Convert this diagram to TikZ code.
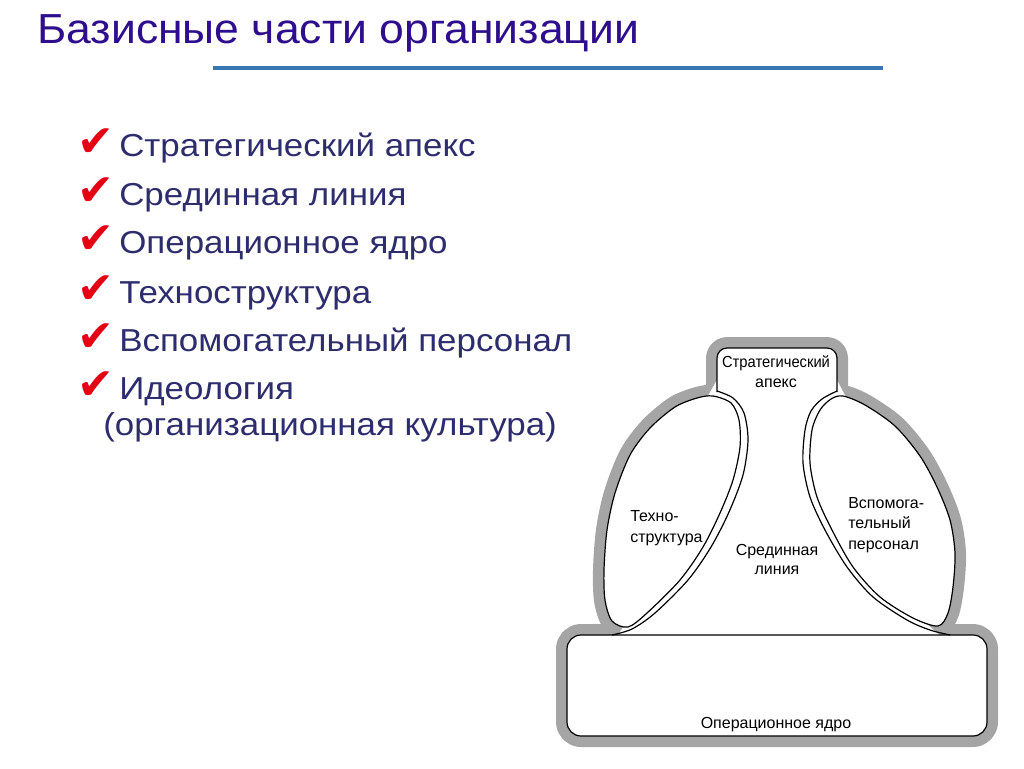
\documentclass[tikz,border=0pt]{standalone}
\usepackage{fontspec}
\setmainfont{Liberation Sans}
\newfontfamily\symfont{DejaVu Sans}
\newfontfamily\listfont[FakeStretch=1.1]{Liberation Sans}
\newfontfamily\titlefont[FakeStretch=1.06]{Liberation Sans}
\newfontfamily\apexfont[FakeStretch=0.92]{Liberation Sans}
\definecolor{titlecol}{RGB}{46,14,140}
\definecolor{textcol}{RGB}{45,45,110}
\definecolor{checkcol}{RGB}{230,0,20}
\definecolor{rulecol}{RGB}{56,118,180}
\definecolor{bandgray}{RGB}{165,165,165}
\tikzset{
  band/.style={draw=bandgray, line width=16.5pt, line join=round},
  edgeline/.style={draw=black, line width=0.9pt, line join=round},
  item/.style={anchor=base west, inner sep=0pt, text=textcol, font=\listfont\fontsize{23.8pt}{28pt}\selectfont},
  tick/.style={anchor=base west, inner sep=0pt, text=checkcol, font=\symfont\fontsize{33pt}{34pt}\selectfont},
  lab/.style={anchor=base, inner sep=0pt, font=\fontsize{12pt}{14pt}\selectfont},
  labw/.style={anchor=base west, inner sep=0pt, font=\fontsize{12pt}{14pt}\selectfont},
}
\newcommand\lobeinL{plot[smooth cycle] coordinates {(713,396) (731,403) (739,420) (740,447) (733,480) (720,513) (703,547) (680,580) (647,613) (628,627) (612,621) (605,600) (604,570) (607,530) (615,493) (630,455) (650,428) (675,407) (697,398)}}
\newcommand\lobeoutL{plot[smooth] coordinates {(717,391) (733,398) (744,413) (748,440) (743,475) (729,512) (711,547) (688,580) (655,613) (632,629) (612,635)}}
\newcommand\lobeinR{plot[smooth cycle] coordinates {(843,396) (865,405) (895,426) (920,456) (937,487) (950,520) (955,553) (953,587) (948,613) (938,626) (913,618) (880,597) (853,567) (832,530) (817,497) (810,463) (812,430) (820,410) (831,399)}}
\newcommand\lobeoutR{plot[smooth] coordinates {(837,391) (822,399) (811,411) (805,430) (803,463) (810,497) (825,530) (847,567) (873,597) (907,620) (930,630) (950,635)}}
\begin{document}
\begin{tikzpicture}[x=0.75pt,y=-0.75pt]
\useasboundingbox (0,0) rectangle (1024,768);
% title and rule
\node[anchor=base west, inner sep=0pt, text=titlecol, font=\titlefont\fontsize{31.5pt}{36pt}\selectfont] (title) at (37,43) {Базисные части организации};
\draw[rulecol, line width=3.4pt] (213,68) -- (883,68);
% bullet list
\node[tick] (t1) at (77,156) {✔};
\node[item] (i1) at (119,156) {Стратегический апекс};
\node[tick] (t2) at (77,205) {✔};
\node[item] (i2) at (119,205) {Срединная линия};
\node[tick] (t3) at (77,253) {✔};
\node[item] (i3) at (119,253) {Операционное ядро};
\node[tick] (t4) at (77,303) {✔};
\node[item] (i4) at (119,303) {Техноструктура};
\node[tick] (t5) at (77,351) {✔};
\node[item] (i5) at (119,351) {Вспомогательный персонал};
\node[tick] (t6) at (77,399) {✔};
\node[item] (i6) at (119,399) {Идеология};
\node[item] (i7) at (103,435) {(организационная культура)};
% diagram: gray band
\draw[band] \lobeinL;
\draw[band] \lobeinR;
\draw[band, rounded corners=7.5pt] (717,400) -- (717,348) -- (837,348) -- (837,400);
\draw[band, rounded corners=10.5pt] (567,635) rectangle (987,736);
% white interiors
\fill[white] \lobeinL;
\fill[white] \lobeinR;
\fill[white, rounded corners=7.5pt] (717,400) -- (717,348) -- (837,348) -- (837,400) -- cycle;
\fill[white, rounded corners=10.5pt] (567,635) rectangle (987,736);
\fill[white] (717,380) -- (837,380) -- (850,405) -- (840,500) -- (900,600) -- (945,640) -- (615,640) -- (640,600) -- (690,500) -- (700,410) -- cycle;
% black lines
\draw[edgeline] \lobeinL;
\draw[edgeline] \lobeoutL;
\draw[edgeline] \lobeinR;
\draw[edgeline] \lobeoutR;
\draw[edgeline, rounded corners=7.5pt] (717,392) -- (717,348) -- (837,348) -- (837,392);
\draw[edgeline, rounded corners=10.5pt] (567,635) rectangle (987,736);
% diagram labels
\node[lab, font=\apexfont\fontsize{12pt}{14pt}\selectfont] (apex1) at (776,367) {Стратегический};
\node[lab] (apex2) at (776,387) {апекс};
\node[labw] (tech1) at (630,521) {Техно-};
\node[labw] (tech2) at (630,542) {структура};
\node[lab] (mid1) at (777,555) {Срединная};
\node[lab] (mid2) at (777,574) {линия};
\node[labw] (sup1) at (848,508) {Вспомога-};
\node[labw] (sup2) at (848,528) {тельный};
\node[labw] (sup3) at (848,549) {персонал};
\node[lab] (core) at (776,728) {Операционное ядро};
\end{tikzpicture}
\end{document}
